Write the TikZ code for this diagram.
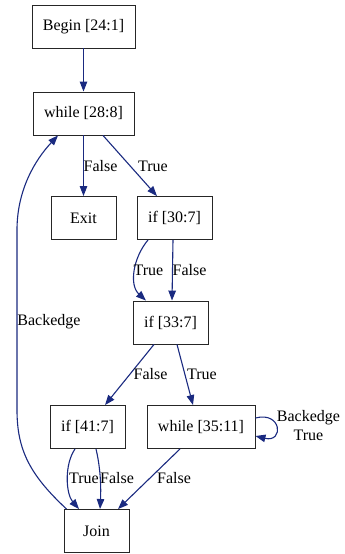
\documentclass[tikz,border=0pt]{standalone}
\usepackage{fontspec}
\setmainfont{Liberation Serif}
\usetikzlibrary{arrows.meta}
\definecolor{edgec}{HTML}{1A2A80}
\begin{document}
\begin{tikzpicture}[x=1pt,y=-1pt,
  box/.style={draw=black!85,line width=0.9pt,inner sep=0pt,minimum height=43pt,font=\fontsize{16}{19}\selectfont},
  edge/.style={draw=edgec,line width=1.1pt,-{Triangle[length=10pt,width=7.5pt]}},
  lab/.style={inner sep=0pt,font=\fontsize{16}{19}\selectfont,align=center}]
\useasboundingbox (0,0) rectangle (345,554);
\node[box,minimum width=103pt] (begin) at (83.5,26.5) {Begin [24:1]};
\node[box,minimum width=101pt] (w28) at (83.5,113.5) {while [28:8]};
\node[box,minimum width=65pt] (exit) at (83.5,218) {Exit};
\node[box,minimum width=75pt] (if30) at (174.5,218) {if [30:7]};
\node[box,minimum width=75pt] (if33) at (170.5,322.5) {if [33:7]};
\node[box,minimum width=75pt] (if41) at (87.5,427) {if [41:7]};
\node[box,minimum width=108pt] (w35) at (201,427) {while [35:11]};
\node[box,minimum width=65pt] (join) at (96.5,531) {Join};

\draw[edge] (begin.south) -- (w28.north);
\draw[edge] (w28.south) -- (exit.north);
\node[lab] (l1) at (100.5,166) {False};
\draw[edge] ([xshift=19.5pt]w28.south) -- ([xshift=-17.5pt]if30.north);
\node[lab] (l2) at (153,166) {True};
\draw[edge] ([xshift=-26.5pt]if30.south) .. controls (133,258) and (129,285) .. ([xshift=-24.5pt]if33.north);
\node[lab] (l3) at (148.5,270) {True};
\draw[edge] ([xshift=-1.5pt]if30.south) -- ([xshift=1.5pt]if33.north);
\node[lab] (l4) at (189.5,270) {False};
\draw[edge] ([xshift=-16.5pt]if33.south) -- ([xshift=17.5pt]if41.north);
\node[lab] (l5) at (150.5,374) {False};
\draw[edge] ([xshift=6.5pt]if33.south) -- ([xshift=-8pt]w35.north);
\node[lab] (l6) at (202,374) {True};
\draw[edge] ([yshift=9pt]w35.east) .. controls (282,411) and (284,443) .. ([yshift=-9pt]w35.east);
\node[lab] (l7) at (308.5,426) {Backedge\\True};
\draw[edge] ([xshift=-12.5pt]if41.south) .. controls (64,465) and (66,494) .. ([xshift=-17.5pt]join.north);
\node[lab] (l8) at (84,478) {True};
\draw[edge] ([xshift=8.5pt]if41.south) .. controls (101,470) and (101,490) .. ([xshift=3.5pt]join.north);
\node[lab] (l9) at (117,478) {False};
\draw[edge] ([xshift=-21pt]w35.south) -- ([xshift=21.5pt]join.north);
\node[lab] (l10) at (174,478) {False};
\draw[edge] ([xshift=3pt]join.north west) .. controls (30,475) and (17,450) .. (17,410) -- (17,230) .. controls (17,190) and (35,160) .. ([xshift=-25.5pt]w28.south);
\node[lab] (l11) at (49,322) {Backedge};
\end{tikzpicture}
\end{document}
